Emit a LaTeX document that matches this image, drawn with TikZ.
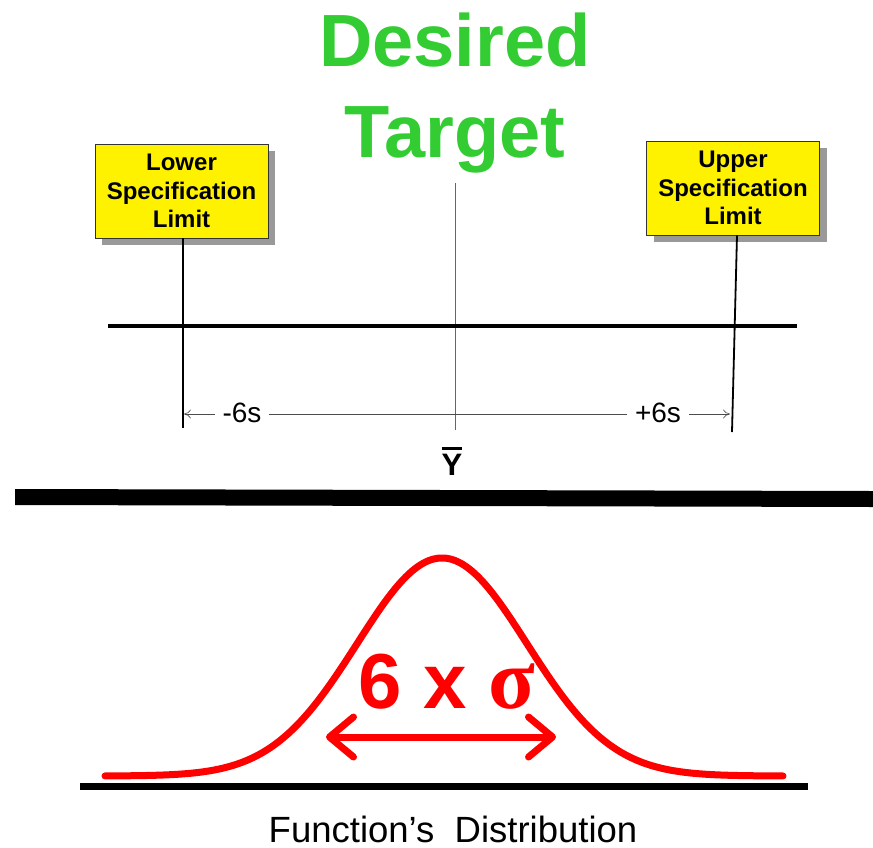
\documentclass[tikz,border=0pt]{standalone}
\usepackage{fontspec}
\setmainfont{Liberation Sans}
\newfontfamily\symfont{Liberation Serif}
\usetikzlibrary{arrows.meta,shadows}
\definecolor{titlegreen}{RGB}{51,204,51}
\definecolor{shadowgray}{RGB}{153,153,153}
\begin{document}
\begin{tikzpicture}[x=1pt,y=-1pt,
  title/.style={font=\fontsize{74}{80}\selectfont\bfseries, text=titlegreen, anchor=base, inner sep=0pt},
  speclimit/.style={draw=black!80, line width=0.8pt, fill=yellow, minimum width=173pt, minimum height=94pt,
     align=center, inner sep=0pt, font=\fontsize{24}{28.5}\selectfont\bfseries,
     drop shadow={shadow xshift=7pt, shadow yshift=-7pt, fill=shadowgray, opacity=1}},
  limitline/.style={line width=1.8pt, black},
  dimlabel/.style={font=\fontsize{28}{30}\selectfont, fill=white, inner xsep=8pt, inner ysep=2pt, anchor=base},
  dimline/.style={line width=0.6pt, black!70, {To[length=7pt,width=9pt,open]}-{To[length=7pt,width=9pt,open]}},
  redline/.style={red, line width=7pt, line cap=round, line join=round}
]
\useasboundingbox (0,0) rectangle (873,847);

% title
\node[title] (t1) at (455,66) {Desired};
\node[title] (t2) at (455,157) {Target};

% spec limit boxes
\node[speclimit] (lsl) at (181.5,191) {Lower\\Specification\\Limit};
\node[speclimit] (usl) at (733,188) {Upper\\Specification\\Limit};

% coordinates
\coordinate (lslbot) at (183,428);
\coordinate (uslbot) at (732,432);
\coordinate (ctop) at (455,183);
\coordinate (cbot) at (455,430);
\coordinate (hl) at (108,326);
\coordinate (hr) at (797,326);
\coordinate (dl) at (184,414);
\coordinate (dr) at (730,414);

% vertical limit lines
\draw[limitline] (lsl.south -| lslbot) -- (lslbot);
\draw[limitline] (usl.south -| 737,0) -- (uslbot);

% center line
\draw[line width=0.6pt, black!60] (ctop) -- (cbot);

% main horizontal line
\draw[line width=3.5pt] (hl) -- (hr);

% dimension line
\draw[dimline] (dl) -- (dr);
\node[dimlabel] (m6) at (242,422) {-6s};
\node[dimlabel] (p6) at (658,422) {+6s};

% Y bar
\node[font=\fontsize{31}{34}\selectfont\bfseries, anchor=base, inner sep=0pt] (ybar) at (452,475)
  {\vbox{\hrule height 3pt\kern 4pt\hbox{Y}}};

% thick separator bar
\fill[black] (15,489) -- (873,491) -- (873,507) -- (15,505) -- cycle;

% bell curve
\draw[redline] plot[domain=105:783, samples=160, smooth] (\x,{776-218*exp(-(((\x-442)/120.2)^2))});

% baseline
\coordinate (bl) at (80,786);
\coordinate (br) at (808,786);
\draw[line width=7pt] (bl) -- (br);

% 6 x sigma
\node[text=red, anchor=base, inner sep=0pt] (sig) at (447,708)
  {\fontsize{78}{80}\selectfont\bfseries 6 x {\symfont\fontsize{86}{88}\selectfont σ}};
\coordinate (al) at (326,737);
\coordinate (ar) at (556,737);
\draw[redline, {Straight Barb[length=24pt,width=40pt,round]}-{Straight Barb[length=24pt,width=40pt,round]}] (al) -- (ar);

% caption
\node[font=\fontsize{36.5}{40}\selectfont, anchor=base, inner sep=0pt, text depth=0pt] (cap) at (453,842) {Function’s\ \ Distribution};
\end{tikzpicture}
\end{document}
